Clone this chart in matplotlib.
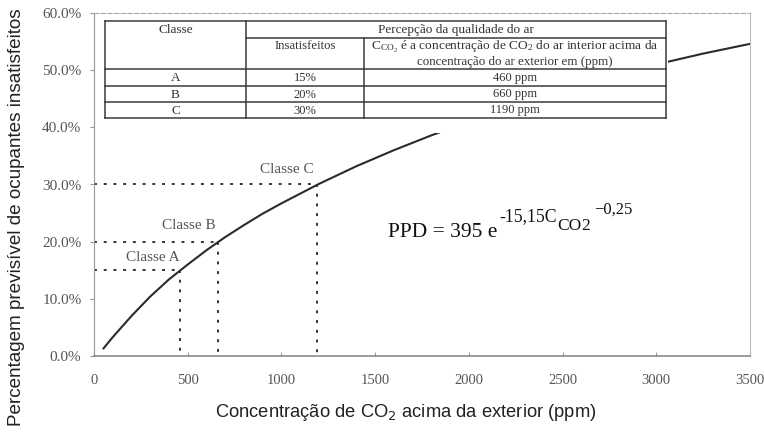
import matplotlib
matplotlib.use("Agg")
import matplotlib.pyplot as plt
from matplotlib.patches import Rectangle
from matplotlib.lines import Line2D
from matplotlib.ticker import FuncFormatter

plt.rcParams['mathtext.fontset'] = 'custom'
plt.rcParams['mathtext.rm'] = 'Liberation Serif'
plt.rcParams['mathtext.it'] = 'Liberation Serif:italic'
plt.rcParams['mathtext.bf'] = 'Liberation Serif:bold'

# PPD curve: dissatisfied occupants (%) vs CO2 above outdoor level (ppm)
co2_ppm = [50, 100, 200, 300, 400, 500, 600, 700, 800, 900, 1000, 1200,
           1400, 1600, 1800, 2000, 2250, 2500, 2750, 3000, 3250, 3500]
ppd_pct = [1.3, 3.3, 7.0, 10.4, 13.4, 16.0, 18.5, 20.8, 22.9, 24.9, 26.7, 30.1,
           33.2, 36.0, 38.6, 41.0, 43.8, 46.4, 48.8, 51.0, 52.9, 54.6]

# Air quality classes
classes = ['A', 'B', 'C']
class_dissatisfied = [15, 20, 30]
class_co2 = [460, 660, 1190]

x_ticks = [0, 500, 1000, 1500, 2000, 2500, 3000, 3500]
y_ticks = [0, 10, 20, 30, 40, 50, 60]

W, H = 764, 436
SERIF = 'Liberation Serif'
SANS = 'Liberation Sans'


def fx(x):
    return x / W


def fy(y):
    return 1 - y / H


fig = plt.figure(figsize=(W / 100, H / 100), dpi=100)
ax = fig.add_axes([fx(94), fy(356), 656 / W, 343 / H])

ax.plot(co2_ppm, ppd_pct, color='#2b2b2b', lw=1.5, zorder=3, solid_capstyle='round')

dot = (0, (1.5, 3.5))
for name, c, p in zip(classes, class_co2, class_dissatisfied):
    ax.plot([0, c], [p, p], color='#333333', lw=1.4, ls=dot, zorder=2)
    ax.plot([c, c], [p, 0.5], color='#333333', lw=1.4, ls=dot, zorder=2)

label_offsets = {'A': (-20, 9), 'B': (-21, 11.5), 'C': (-22, 10.5)}
for name, c, p in zip(classes, class_co2, class_dissatisfied):
    ax.annotate(f'Classe {name}', (c, p), xytext=label_offsets[name],
                textcoords='offset points', ha='center', va='center',
                fontsize=11, family=SERIF, color='#555555')

ax.set_xlim(0, 3500)
ax.set_ylim(0, 60)
ax.set_xticks(x_ticks)
ax.set_yticks(y_ticks)
ax.yaxis.set_major_formatter(FuncFormatter(lambda v, _: f'{v:.1f}%'))
ax.tick_params(axis='x', direction='in', length=3, pad=13, colors='#999999',
               labelcolor='#555555', labelsize=10.5)
ax.tick_params(axis='y', direction='out', length=3, pad=6, colors='#999999',
               labelcolor='#555555', labelsize=11)
for lab in ax.get_xticklabels() + ax.get_yticklabels():
    lab.set_family(SERIF)

ax.spines['top'].set_linestyle((0, (4, 2)))
ax.spines['top'].set_color('#aaaaaa')
ax.spines['left'].set_color('#999999')
ax.spines['bottom'].set_color('#8a8a8a')
ax.spines['bottom'].set_linewidth(1.2)
ax.spines['right'].set_color('#bbbbbb')

# Class table drawn over the upper part of the plot
fig.add_artist(Rectangle((fx(100), fy(133)), (668 - 100) / W, (133 - 15) / H,
                         transform=fig.transFigure, facecolor='white',
                         edgecolor='none', zorder=5))

tcol = '#3a3a3a'


def hline(y, x0, x1):
    fig.add_artist(Line2D([fx(x0), fx(x1)], [fy(y), fy(y)], transform=fig.transFigure,
                          color=tcol, lw=1.1, zorder=6))


def vline(x, y0, y1):
    fig.add_artist(Line2D([fx(x), fx(x)], [fy(y0), fy(y1)], transform=fig.transFigure,
                          color=tcol, lw=1.1, zorder=6))


col_x = [105, 246, 364, 666]
row_y = [21, 38, 69, 86, 102, 118]
hline(row_y[0], col_x[0], col_x[3])
hline(row_y[1], col_x[1], col_x[3])
for y in row_y[2:]:
    hline(y, col_x[0], col_x[3])
vline(col_x[0], row_y[0], row_y[-1])
vline(col_x[1], row_y[0], row_y[-1])
vline(col_x[2], row_y[1], row_y[-1])
vline(col_x[3], row_y[0], row_y[-1])


def ttext(x, y, s, size=9):
    fig.text(fx(x), fy(y), s, ha='center', va='center', fontsize=size,
             family=SERIF, color='#333333', zorder=7)


c1 = (col_x[0] + col_x[1]) / 2
c2 = (col_x[1] + col_x[2]) / 2
c3 = (col_x[2] + col_x[3]) / 2
ttext(c1, 30, 'Classe', 9.5)
ttext((col_x[1] + col_x[3]) / 2, 29.5, 'Percepção da qualidade do ar', 9.5)
ttext(c2, 46, 'Insatisfeitos', 9.2)
ttext(c3, 47, r'C$_{\mathrm{CO}_2}$ é a concentração de CO$_2$ do ar interior acima da', 9.6)
ttext(c3, 62, 'concentração do ar exterior em (ppm)', 9.4)
row_centers = [78, 94.5, 110.5]
for name, p, c, yc in zip(classes, class_dissatisfied, class_co2, row_centers):
    ttext(c1, yc, name, 9.5)
    ttext(c2, yc, f'{p}%', 9)
    ttext(c3, yc, f'{c} ppm', 9)

# Equation, assembled piece by piece so each part sits after the previous one
ecol = '#111111'
renderer = fig.canvas.get_renderer()
pieces = [
    ('PPD = 395 e', 15.5, 237.0, 0),
    ('-15,15C', 12.7, 221.5, 2),
    ('CO', 12.5, 229.5, 0),
    ('2', 12.5, 230.0, 0),
    ('\u22120,25', 12.0, 213.5, 4),
]
xpos = 388.0
for s, size, base, gap in pieces:
    xpos += gap
    t = fig.text(fx(xpos), fy(base), s, fontsize=size, family=SERIF, color=ecol,
                 va='baseline', ha='left')
    xpos += t.get_window_extent(renderer).width

# Axis titles
fig.text(fx(17), fy(217), 'Percentagem previsível de ocupantes insatisfeitos',
         rotation=90, ha='center', va='center', fontsize=13.6, family=SANS, color='#222222')
fig.text(fx(406), fy(412), r'Concentração de CO$_2$ acima da exterior (ppm)',
         ha='center', va='center', fontsize=13.2, family=SANS, color='#222222',
         math_fontfamily='dejavusans')

fig.savefig('out.png', dpi=100)
